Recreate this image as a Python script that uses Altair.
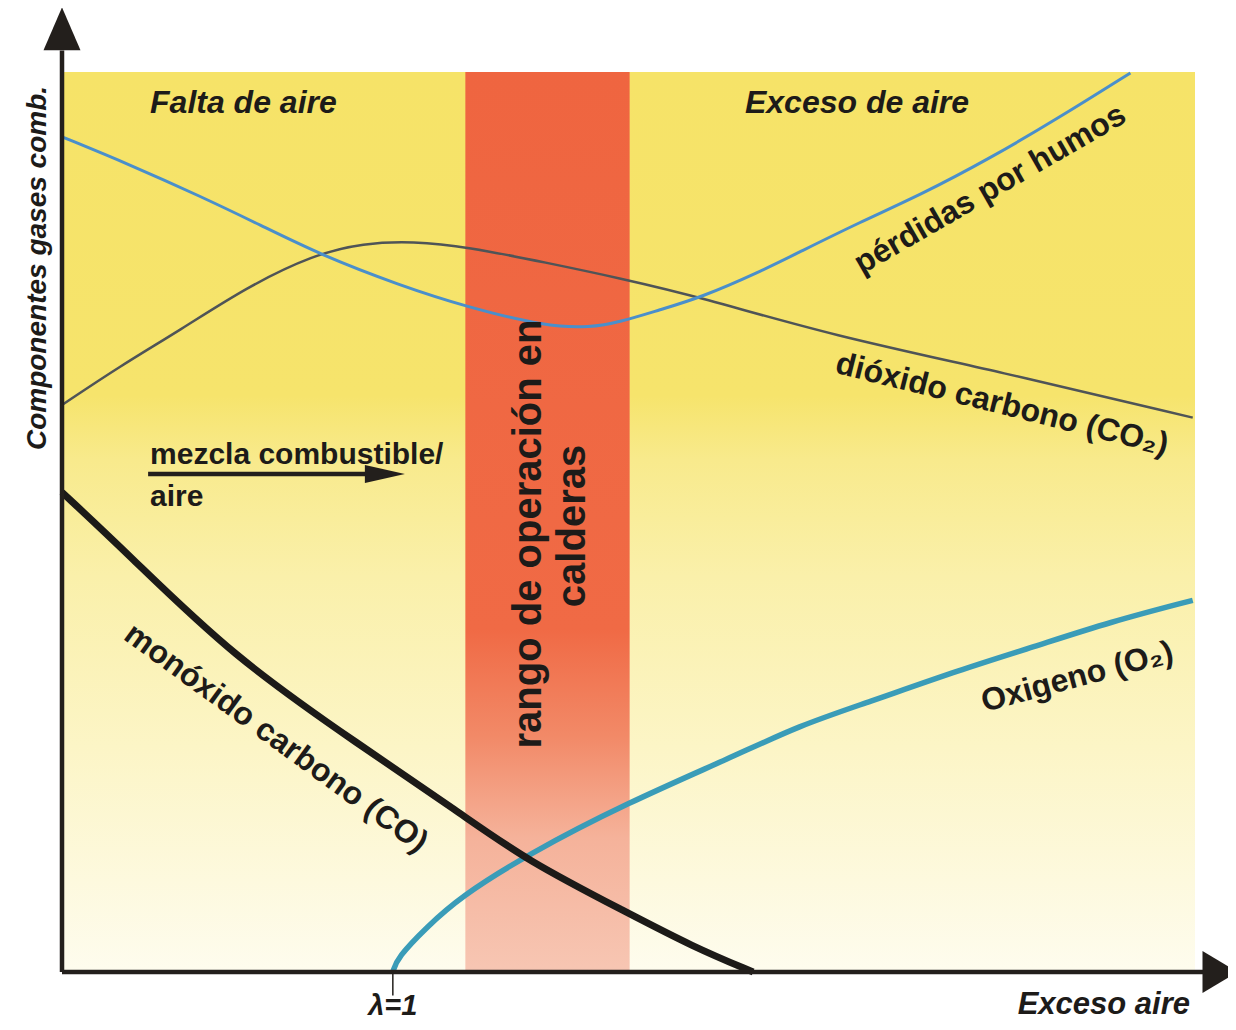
import altair as alt
import pandas as pd

# ---- data (x: exceso de aire 0-100, y: componentes 0-100) ----
perdidas_x = [0, 6.0, 12.2, 17.5, 22.8, 29.8, 35.7, 42.8, 46.6, 49.2, 52.8, 56.3, 61.6, 65.1, 70.4, 75.7, 81.9, 88.1, 94.3]
perdidas_y = [92.8, 89.7, 86.2, 83.0, 79.7, 76.3, 73.9, 71.7, 71.6, 72.2, 73.6, 74.9, 77.8, 80.0, 83.3, 86.3, 90.4, 95.0, 99.9]

co2_x = [0, 5.1, 10.4, 16.3, 22.2, 26.6, 31.0, 35.7, 42.8, 49.2, 56.3, 68.0, 82.8, 99.8]
co2_y = [63.0, 67.3, 71.3, 76.1, 79.7, 81.0, 81.2, 80.6, 78.8, 77.1, 75.0, 70.7, 66.7, 61.6]

co_x = [0, 5.7, 15.1, 26.3, 35.1, 41.0, 49.9, 55.7, 61.0]
co_y = [53.3, 46.6, 35.0, 25.2, 17.7, 12.4, 6.6, 2.8, 0]

o2_x = [29.2, 29.6, 32.2, 35.1, 41.0, 49.9, 59.2, 65.1, 71.0, 79.3, 85.7, 92.5, 99.8]
o2_y = [0, 1.6, 5.0, 8.3, 13.0, 18.8, 23.9, 27.4, 29.9, 33.6, 36.1, 38.9, 41.3]

band_range = [35.6, 50.1]          # rango de operación en calderas
lambda_one = 29.2                  # λ=1

texts = {
    "falta": "Falta de aire",
    "exceso": "Exceso de aire",
    "perdidas": "pérdidas por humos",
    "co2": "dióxido carbono (CO₂)",
    "mezcla1": "mezcla combustible/",
    "mezcla2": "aire",
    "co": "monóxido carbono (CO)",
    "rango1": "rango de operación en",
    "rango2": "calderas",
    "o2": "Oxigeno (O₂)",
    "ytitle": "Componentes gases comb.",
    "lambda": "λ=1",
    "xtitle": "Exceso aire",
}

FONT = "Liberation Sans, Arial, sans-serif"
SX = alt.Scale(domain=[0, 100], nice=False, zero=False)
SY = alt.Scale(domain=[0, 100], nice=False, zero=False)
one = pd.DataFrame({"k": [0]})


def X(v):
    return alt.XDatum(v, scale=SX, axis=None)


def Y(v):
    return alt.YDatum(v, scale=SY, axis=None)


def curve(xs, ys, color, width, interp="basis"):
    df = pd.DataFrame({"x": xs, "y": ys})
    return alt.Chart(df).mark_line(color=color, strokeWidth=width, interpolate=interp).encode(
        x=alt.X("x:Q", scale=SX, axis=None),
        y=alt.Y("y:Q", scale=SY, axis=None),
    )


def label(key, x, y, size, angle=0, italic=False, align="center", baseline="middle"):
    return alt.Chart(one).mark_text(
        text=texts[key], font=FONT, fontSize=size, fontWeight="bold",
        fontStyle="italic" if italic else "normal", angle=angle,
        align=align, baseline=baseline, color="#1d1b19",
    ).encode(x=X(x), y=Y(y))


bg = alt.Chart(one).mark_rect(
    color=alt.LinearGradient(
        gradient="linear", x1=0, y1=0, x2=0, y2=1,
        stops=[
            alt.GradientStop(color="#f6e368", offset=0),
            alt.GradientStop(color="#f6e46c", offset=0.36),
            alt.GradientStop(color="#f8ea8c", offset=0.43),
            alt.GradientStop(color="#faf0aa", offset=0.56),
            alt.GradientStop(color="#fcf5c6", offset=0.75),
            alt.GradientStop(color="#fdf9de", offset=0.9),
            alt.GradientStop(color="#fefcee", offset=1),
        ],
    )
).encode(x=X(0), x2=alt.X2Datum(100), y=Y(0), y2=alt.Y2Datum(100))

band = alt.Chart(one).mark_rect(
    color=alt.LinearGradient(
        gradient="linear", x1=0, y1=0, x2=0, y2=1,
        stops=[
            alt.GradientStop(color="#ef6540", offset=0),
            alt.GradientStop(color="#f06a45", offset=0.62),
            alt.GradientStop(color="#f28a68", offset=0.74),
            alt.GradientStop(color="#f5b29a", offset=0.85),
            alt.GradientStop(color="#f7c6b3", offset=1),
        ],
    )
).encode(x=X(band_range[0]), x2=alt.X2Datum(band_range[1]), y=Y(0), y2=alt.Y2Datum(100))

lines = [
    curve(co2_x, co2_y, "#4f5457", 2.5),
    curve(perdidas_x, perdidas_y, "#4a8fcb", 3),
    curve(o2_x, o2_y, "#3a9cb8", 5.5),
    curve(co_x, co_y, "#1c1a18", 7),
]

AX = "#231f1c"
x_axis = alt.Chart(one).mark_rule(color=AX, strokeWidth=4.5).encode(x=X(0), x2=alt.X2Datum(100.9), y=Y(0))
y_axis = alt.Chart(one).mark_rule(color=AX, strokeWidth=4.5).encode(x=X(0), y=Y(0), y2=alt.Y2Datum(102.4))
x_head = alt.Chart(one).mark_point(
    shape="M -0.83 -1 L 0.83 0 L -0.83 1 Z", size=1764, filled=True, opacity=1, color=AX, strokeWidth=0
).encode(x=X(102.2), y=Y(0))
y_head = alt.Chart(one).mark_point(
    shape="M -1 1.16 L 0 -1.16 L 1 1.16 Z", size=1369, filled=True, opacity=1, color=AX, strokeWidth=0
).encode(x=X(0), y=Y(104.8))
lam_tick = alt.Chart(one).mark_rule(color=AX, strokeWidth=1.5).encode(x=X(lambda_one), y=Y(0), y2=alt.Y2Datum(-2.6))

mez_line = alt.Chart(one).mark_rule(color=AX, strokeWidth=4.5).encode(x=X(7.6), x2=alt.X2Datum(27.2), y=Y(55.33))
mez_head = alt.Chart(one).mark_point(
    shape="M -1 -0.45 L 1 0 L -1 0.45 Z", size=1600, filled=True, opacity=1, color=AX, strokeWidth=0
).encode(x=X(28.5), y=Y(55.33))

labels = [
    label("falta", 7.77, 96.56, 32, italic=True, align="left"),
    label("exceso", 60.28, 96.56, 32, italic=True, align="left"),
    label("perdidas", 81.9, 87.0, 32, angle=330),
    label("co2", 82.97, 63.1, 32, angle=14),
    label("mezcla1", 7.77, 57.44, 30, align="left"),
    label("mezcla2", 7.77, 52.78, 30, align="left"),
    label("co", 18.9, 26.0, 32, angle=36),
    label("rango1", 41.22, 48.67, 40, angle=270),
    label("rango2", 45.1, 49.56, 40, angle=270),
    label("o2", 89.6, 32.8, 32, angle=345),
    label("ytitle", -2.12, 78.22, 28, angle=270, italic=True),
    label("lambda", lambda_one, -5.44, 29, italic=True, baseline="bottom"),
    label("xtitle", 99.56, -5.44, 31, italic=True, align="right", baseline="bottom"),
]

chart = alt.layer(
    bg, band, *lines, x_axis, y_axis, x_head, y_head, lam_tick, mez_line, mez_head, *labels
).properties(
    width=1133, height=900,
    padding={"left": 54, "top": 64, "right": 33, "bottom": 50},
    autosize=alt.AutoSizeParams(type="none"),
    background="white",
).configure_view(stroke=None)

chart.save("out.html", embed_options={"renderer": "svg", "actions": False})
